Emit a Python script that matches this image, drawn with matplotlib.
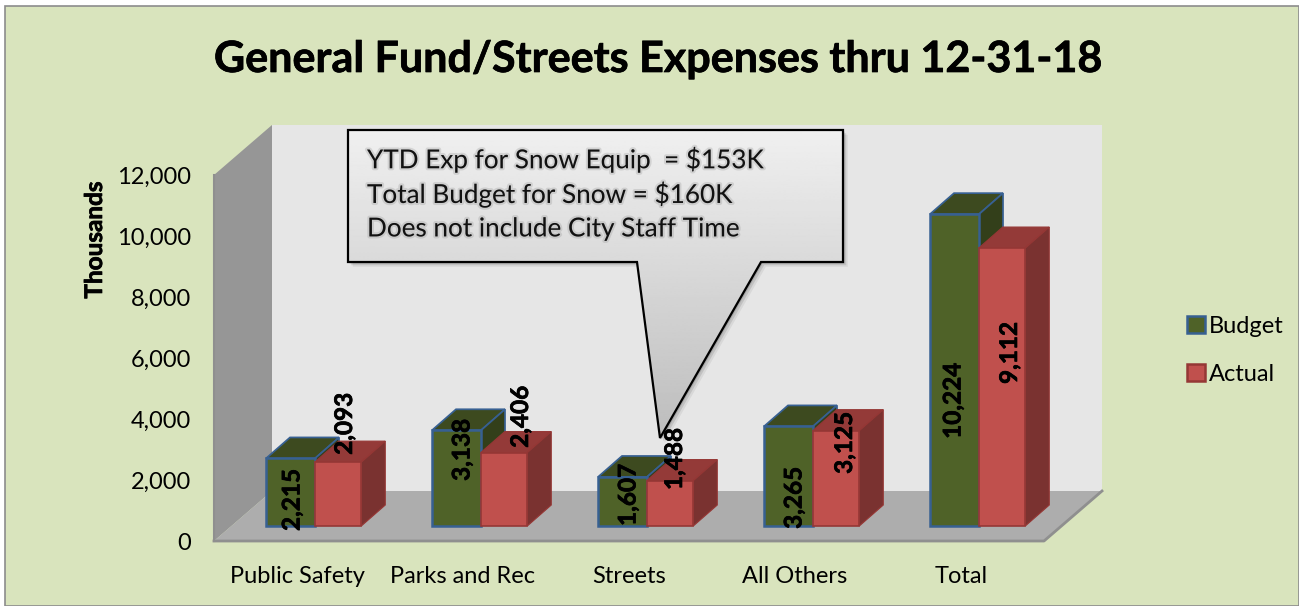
import matplotlib
matplotlib.use('Agg')
import matplotlib.pyplot as plt
import matplotlib.patheffects as pe
from matplotlib.patches import Polygon, Rectangle
import numpy as np

plt.rcParams['font.family'] = ['Lato', 'DejaVu Sans']

categories = ['Public Safety', 'Parks and Rec', 'Streets', 'All Others', 'Total']
budget = [2215, 3138, 1607, 3265, 10224]
actual = [2093, 2406, 1488, 3125, 9112]
callout_lines = ['YTD Exp for Snow Equip  = $153K',
                 'Total Budget for Snow = $160K',
                 'Does not include City Staff Time']

W, H = 1299, 606
# front plane of the chart in pixels
LEFT, RIGHT, ZERO, TOP = 214, 1044, 541, 175
YMAX = 12000
PX_X = (RIGHT - LEFT) / len(categories)     # pixels per category
PX_Y = (ZERO - TOP) / YMAX                  # pixels per unit

def ux(px):
    return px / PX_X

def uy(px):
    return px / PX_Y

FLOOR_DX, FLOOR_DY = ux(58), uy(50)
BAR_DX, BAR_DY = ux(24), uy(21)
BASE = uy(15)
BAR_W = [ux(49), ux(46.5)]
BAR_C = [ux(-6.5), ux(41)]
HEAVY = [pe.withStroke(linewidth=0.5, foreground='black')]

fig = plt.figure(figsize=(W / 100, H / 100), dpi=100, facecolor='white')
fig.patches.append(Rectangle((5 / W, 0), 1 - 5 / W, 1 - 6 / H, transform=fig.transFigure,
                             facecolor='#D9E4BD', edgecolor='#8C8C8C', linewidth=1.2, zorder=-5))

ax = fig.add_axes([LEFT / W, 1 - ZERO / H, (RIGHT - LEFT) / W, (ZERO - TOP) / H])
ax.patch.set_visible(False)
for s in ax.spines.values():
    s.set_visible(False)
x0, x1 = -0.5, len(categories) - 0.5
ax.set_xlim(x0, x1)
ax.set_ylim(0, YMAX)

def poly(pts, color, z, edge=None, lw=0):
    ax.add_patch(Polygon(pts, closed=True, facecolor=color, edgecolor=edge or color,
                         linewidth=lw, zorder=z, clip_on=False))

# walls and floor
poly([(x0 + FLOOR_DX, FLOOR_DY), (x1 + FLOOR_DX, FLOOR_DY),
      (x1 + FLOOR_DX, YMAX + FLOOR_DY), (x0 + FLOOR_DX, YMAX + FLOOR_DY)], '#E6E6E6', 1)
poly([(x0, 0), (x0 + FLOOR_DX, FLOOR_DY), (x0 + FLOOR_DX, YMAX + FLOOR_DY), (x0, YMAX)], '#969696', 2)
poly([(x0, 0), (x1, 0), (x1 + FLOOR_DX, FLOOR_DY), (x0 + FLOOR_DX, FLOOR_DY)], '#ADADAD', 2)
ax.plot([x0, x1, x1 + FLOOR_DX], [0, 0, FLOOR_DY], color='#8F8F8F', lw=2, zorder=3, clip_on=False)
ax.plot([x0, x0], [0, YMAX], color='#8F8F8F', lw=1.5, zorder=3, clip_on=False)

series = [(budget, 'Budget', '#4F6228', '#3D4A1F', '#333F1A', '#376092', 1.8),
          (actual, 'Actual', '#C0504D', '#943A38', '#7A3230', '#953735', 1.2)]
xs = np.arange(len(categories))
for i in range(len(categories)):
    for j, (vals, name, front, top, side, edge, lw) in enumerate(series):
        left = xs[i] + BAR_C[j] - BAR_W[j] / 2
        right = left + BAR_W[j]
        h = vals[i]
        z = 4 + i + j * 0.5
        poly([(left, BASE + h), (left + BAR_DX, BASE + h + BAR_DY),
              (right + BAR_DX, BASE + h + BAR_DY), (right, BASE + h)], top, z, edge, lw * 0.7)
        poly([(right, BASE), (right + BAR_DX, BASE + BAR_DY),
              (right + BAR_DX, BASE + h + BAR_DY), (right, BASE + h)], side, z, edge, lw * 0.7)
        ax.bar(xs[i] + BAR_C[j], h, BAR_W[j], bottom=BASE, color=front, edgecolor=edge,
               linewidth=lw, zorder=z + 0.1)

# data labels were dragged around by hand in the original, offsets in pixels from bar top
budget_off = [(1.5, -41.6), (5.5, -19.7), (5.5, -18), (5.5, -71.6), (-1.5, -186.8)]
actual_off = [(6.5, 38.2), (16.5, 35.6), (4.5, 21.6), (8.5, -12.3), (7.5, -104.9)]
for j, (vals, off) in enumerate([(budget, budget_off), (actual, actual_off)]):
    for i, v in enumerate(vals):
        ax.annotate(f'{v:,}', (xs[i] + BAR_C[j], BASE + v), xytext=(off[i][0] * 0.72, off[i][1] * 0.72),
                    textcoords='offset points', rotation=90, ha='center', va='center',
                    fontsize=17.5, fontweight='bold', color='black', zorder=20, annotation_clip=False,
                    path_effects=HEAVY)

ax.set_xticks(xs, categories)
ax.set_yticks(np.arange(0, YMAX + 1, 2000))
ax.yaxis.set_major_formatter(matplotlib.ticker.FuncFormatter(lambda v, p: f'{int(v):,}'))
ax.tick_params(axis='both', length=0, labelsize=17, colors='black')
ax.tick_params(axis='x', pad=18)
ax.tick_params(axis='y', pad=16.5)
ax.set_ylabel('Thousands', fontsize=17.5, fontweight='bold', path_effects=HEAVY)
ax.yaxis.set_label_coords((106 - LEFT) / (RIGHT - LEFT), (ZERO - 240) / (ZERO - TOP))

legend_handles = [Rectangle((0, 0), 1, 1, facecolor=s[2], edgecolor=s[5], linewidth=1.8) for s in series]
fig.legend(legend_handles, ['Budget', 'Actual'], loc='center left',
           bbox_to_anchor=(1166 / W, 1 - 350.5 / H), frameon=False, fontsize=17,
           handlelength=0.75, handleheight=0.75, handletextpad=0.15, labelspacing=1.15)

# overlay in pixel coordinates for title and callout
ov = fig.add_axes([0, 0, 1, 1], zorder=10)
ov.patch.set_visible(False)
ov.axis('off')
ov.text(658, 59, 'General Fund/Streets Expenses thru 12-31-18', ha='center', va='center',
        fontsize=31, fontweight='bold', color='black', path_effects=HEAVY)

shape = np.array([(348, 130), (843, 130), (843, 262), (761, 262), (660, 438), (637, 262), (348, 262)])
for k, a in [(6, 0.06), (4, 0.10), (2, 0.15)]:
    ov.add_patch(Polygon(shape + k * 0.8, closed=True, facecolor='black', edgecolor='none', alpha=a, zorder=1))
grad = np.linspace(0.94, 0.74, 256).reshape(-1, 1)
im = ov.imshow(grad, extent=(348, 843, 438, 130), cmap='gray', vmin=0, vmax=1, aspect='auto', zorder=2)
outline = Polygon(shape, closed=True, facecolor='none', edgecolor='black', linewidth=1.6, zorder=5)
ov.add_patch(outline)
im.set_clip_path(outline)
ov.set_xlim(0, W)
ov.set_ylim(H, 0)
for n, line in enumerate(callout_lines):
    ov.text(367, 159.5 + n * 34.7, line, ha='left', va='center', fontsize=18.8, color='#111111', zorder=6,
            path_effects=[pe.withStroke(linewidth=3, foreground='#888888', alpha=0.25)])

fig.savefig('out.png', dpi=100)
